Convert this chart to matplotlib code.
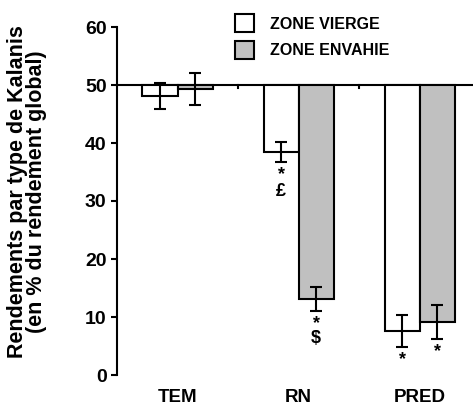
import matplotlib
matplotlib.use("Agg")
import matplotlib.pyplot as plt
import numpy as np

plt.rcParams['font.family'] = ['Liberation Sans', 'DejaVu Sans']
plt.rcParams['font.weight'] = 'bold'

categories = ["TEM", "RN", "PRED"]
vierge = [48.1, 38.4, 7.6]
vierge_err = [2.2, 1.7, 2.7]
envahie = [49.3, 13.1, 9.1]
envahie_err = [2.8, 2.1, 2.9]
vierge_marks = ["", "*\n£", "*"]
envahie_marks = ["", "*\n$", "*"]
baseline = 50

fig = plt.figure(figsize=(4.73, 4.08), dpi=100)
ax = fig.add_axes([117/473, 1 - 375/408, 1 - 117/473, (375 - 27)/408])

x = np.arange(len(categories))
w = 0.29
ax.bar(x - w/2, np.array(vierge) - baseline, w, bottom=baseline, color='white',
       edgecolor='black', linewidth=1.5, label='ZONE VIERGE', zorder=2)
ax.bar(x + w/2, np.array(envahie) - baseline, w, bottom=baseline, color='#c0c0c0',
       edgecolor='black', linewidth=1.5, label='ZONE ENVAHIE', zorder=2)
ax.errorbar(x - w/2, vierge, yerr=vierge_err, fmt='none', ecolor='black',
            elinewidth=1.5, capsize=4, capthick=1.5, zorder=3)
ax.errorbar(x + w/2, envahie, yerr=envahie_err, fmt='none', ecolor='black',
            elinewidth=1.5, capsize=4, capthick=1.5, zorder=3)

ax.axhline(baseline, color='black', linewidth=1.5, zorder=1)
for s in [0.5, 1.5]:
    ax.plot([s, s], [baseline, baseline - 0.6], color='black', linewidth=1.5)

for xi, v, e, m in zip(x - w/2, vierge, vierge_err, vierge_marks):
    if m:
        ax.text(xi, v - e - 0.7, m, ha='center', va='top', fontsize=13,
                fontweight='bold', linespacing=0.95)
for xi, v, e, m in zip(x + w/2, envahie, envahie_err, envahie_marks):
    if m:
        ax.text(xi, v - e - 0.7, m, ha='center', va='top', fontsize=13,
                fontweight='bold', linespacing=0.85)

ax.set_xlim(-0.5, 2.44)
ax.set_ylim(0, 60)
ax.set_yticks(range(0, 61, 10))
ax.tick_params(axis='y', labelsize=14, width=1.5, length=4, direction='out')
for lab in ax.get_yticklabels():
    lab.set_fontweight('bold')
ax.set_xticks(x)
ax.set_xticklabels(categories, fontsize=13.5, fontweight='bold')
ax.tick_params(axis='x', length=0, pad=10)
for sp in ['top', 'right', 'bottom']:
    ax.spines[sp].set_visible(False)
ax.spines['left'].set_linewidth(1.5)

ax.set_ylabel("Rendements par type de Kalanis\n(en % du rendement global)",
              fontsize=15.5, fontweight='bold', linespacing=0.88)
ax.yaxis.set_label_coords(-0.197, 0.527)

leg = ax.legend(loc='upper left', bbox_to_anchor=(0.29, 1.078), frameon=False,
                prop={'size': 11.5, 'weight': 'bold'}, handlelength=1.2,
                handleheight=1.35, handletextpad=1.0, labelspacing=0.55)

fig.savefig("out.png", dpi=100)
